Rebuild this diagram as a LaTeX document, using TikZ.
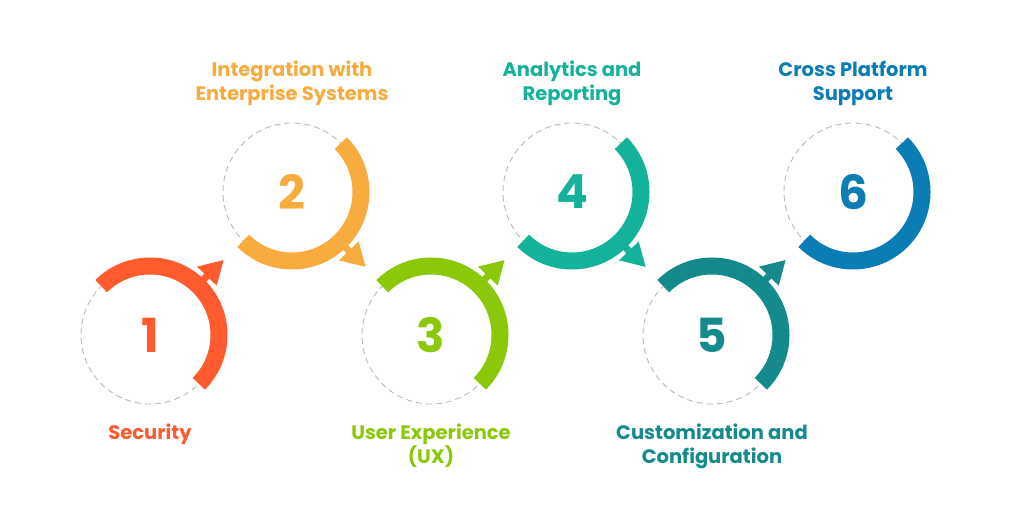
\documentclass[tikz,border=0pt]{standalone}
\usepackage{fontspec}
\setmainfont{Poppins}
\usepackage{tikz}
\usetikzlibrary{calc}

\definecolor{secred}{HTML}{FF5B2E}
\definecolor{intorange}{HTML}{F8AC40}
\definecolor{uxgreen}{HTML}{8CC80A}
\definecolor{anateal}{HTML}{14B29A}
\definecolor{custeal}{HTML}{148A8C}
\definecolor{crossblue}{HTML}{0C7CB5}

\begin{document}
\begin{tikzpicture}[x=1pt, y=1pt,
    ring/.style={line width=17pt},
    guide/.style={black!30, line width=0.8pt, dash pattern=on 6pt off 4pt},
    digit/.style={font=\fontsize{47}{47}\selectfont\bfseries},
    caption/.style={font=\fontsize{19.5}{24}\selectfont\bfseries, align=center},
]
\useasboundingbox (0,0) rectangle (1024,526);

\def\rad{69}

% Circle centres
\coordinate (c1) at (150,191);
\coordinate (c2) at (292,334);
\coordinate (c3) at (431,191);
\coordinate (c4) at (572,334);
\coordinate (c5) at (712,191);
\coordinate (c6) at (853,334);

% Dashed guide circles
\foreach \c in {c1,c2,c3,c4,c5,c6}
    \draw[guide] (\c) circle[radius=\rad];

% --- Lower circles: arc over the top, arrow up-right
\foreach \c/\col in {c1/secred, c3/uxgreen, c5/custeal} {
    \draw[ring, \col] (\c) ++(135:\rad) arc[start angle=135, end angle=-45, radius=\rad];
    \fill[\col] ($(\c)+(43.5:74)$) -- ($(\c)+(43.5:84)$) -- ($(\c)+(48.5:84)$) -- ($(\c)+(48.5:74)$) -- cycle;
    \fill[\col] ($(\c)+(45.5:105)$) -- ($(\c)+(55.5:83)$) -- ($(\c)+(36.5:83)$) -- cycle;
}

% --- Upper circles: arc under the bottom, arrow down-right
\foreach \c/\col in {c2/intorange, c4/anateal} {
    \draw[ring, \col] (\c) ++(45:\rad) arc[start angle=45, end angle=-135, radius=\rad];
    \fill[\col] ($(\c)+(-43.5:74)$) -- ($(\c)+(-43.5:84)$) -- ($(\c)+(-48.5:84)$) -- ($(\c)+(-48.5:74)$) -- cycle;
    \fill[\col] ($(\c)+(-45.5:105)$) -- ($(\c)+(-55.5:83)$) -- ($(\c)+(-36.5:83)$) -- cycle;
}
\draw[ring, crossblue] (c6) ++(45:\rad) arc[start angle=45, end angle=-135, radius=\rad];

% Numbers
\node[digit, secred]    (n1) at (c1) {1};
\node[digit, intorange] (n2) at (c2) {2};
\node[digit, uxgreen]   (n3) at (c3) {3};
\node[digit, anateal]   (n4) at (c4) {4};
\node[digit, custeal]   (n5) at (c5) {5};
\node[digit, crossblue] (n6) at (c6) {6};

% Captions
\node[caption, secred]    (t1) at (150,92)  {Security};
\node[caption, intorange] (t2) at (292,443) {Integration with\\Enterprise Systems};
\node[caption, uxgreen]   (t3) at (431,80)  {User Experience\\(UX)};
\node[caption, anateal]   (t4) at (572,443) {Analytics and\\Reporting};
\node[caption, custeal]   (t5) at (712,80)  {Customization and\\Configuration};
\node[caption, crossblue] (t6) at (853,443) {Cross Platform\\Support};

\end{tikzpicture}
\end{document}
